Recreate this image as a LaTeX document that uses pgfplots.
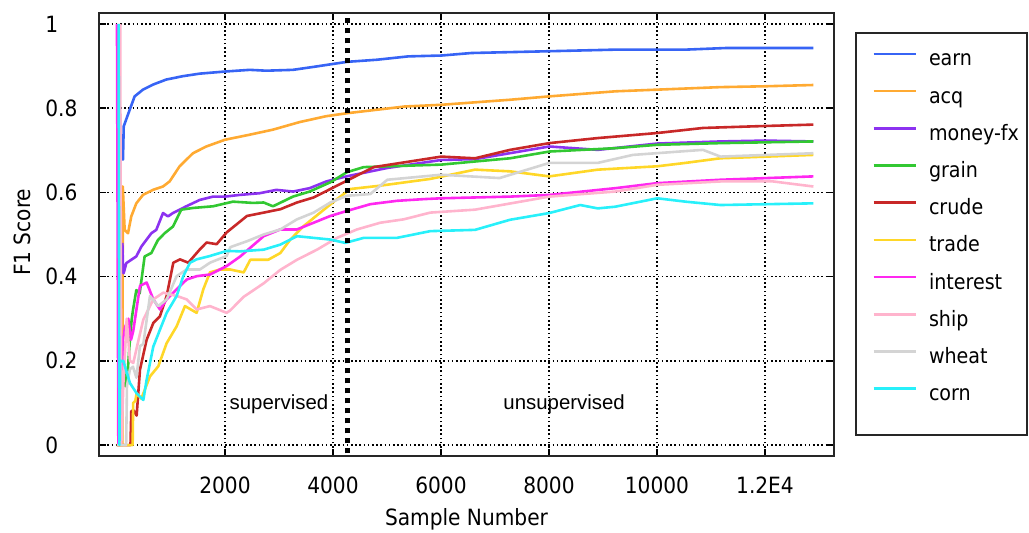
\documentclass[border=0pt]{standalone}
\usepackage{fontspec}
\setmainfont{DejaVu Sans}[FakeStretch=0.9]
\newfontfamily\annfont{Liberation Sans}
\usepackage{pgfplots}
\pgfplotsset{compat=1.18}

\definecolor{cEarn}{RGB}{55,100,245}
\definecolor{cAcq}{RGB}{255,170,50}
\definecolor{cMoney}{RGB}{140,50,240}
\definecolor{cGrain}{RGB}{50,200,50}
\definecolor{cCrude}{RGB}{200,40,40}
\definecolor{cTrade}{RGB}{255,215,40}
\definecolor{cInterest}{RGB}{255,40,240}
\definecolor{cShip}{RGB}{255,180,205}
\definecolor{cWheat}{RGB}{212,212,212}
\definecolor{cCorn}{RGB}{40,240,250}

\begin{document}
\begin{tikzpicture}
\begin{axis}[
  name=ax,
  scale only axis, width=367.5pt, height=221.5pt,
  xmin=-333, xmax=13278, ymin=-0.026, ymax=1.026,
  scaled x ticks=false, scaled y ticks=false,
  xtick={2000,4000,6000,8000,10000,12000},
  xticklabels={2000,4000,6000,8000,10000,1.2E4},
  ytick={0,0.2,0.4,0.6,0.8,1},
  yticklabels={0,0.2,0.4,0.6,0.8,1},
  /pgf/number format/assume math mode=true,
  tick label style={font=\fontsize{11.2}{13}\selectfont},
  xticklabel style={yshift=-6.8pt},
  yticklabel style={anchor=west, inner sep=0pt, xshift=-27pt},
  major tick length=3.5pt,
  tick style={black, line width=0.8pt},
  axis line style={black!85, line width=1pt},
  grid=major,
  grid style={black, line width=0.7pt, dash pattern=on 0.8pt off 1.3pt},
  label style={font=\fontsize{11.2}{13}\selectfont},
  xlabel={Sample Number},
  ylabel={F1 Score},
  xlabel style={at={(axis description cs:0.5,-0.142)}, anchor=center},
  ylabel style={at={(axis description cs:-0.104,0.505)}, anchor=center},
  no marks,
  every axis plot/.append style={line width=1.3pt, line join=round},
  legend style={at={(axis description cs:1.0517,0.9199)}, anchor=north west,
    draw=none, fill=none, inner sep=0pt, row sep=7.6pt,
    font=\fontsize{10.6}{12}\selectfont,
    nodes={inner sep=0pt, text height=8.5pt, text depth=2.5pt},
    /tikz/every odd column/.append style={column sep=6pt}},
  legend cell align=left,
  legend image code/.code={\draw[#1, line width=1.3pt] (0pt,3pt) -- (21pt,3pt);},
]
% earn
\addplot[cEarn] coordinates {(90,0.68)(111,0.678)(125,0.757)(235,0.796)(327,0.828)(481,0.844)(667,0.856)(914,0.868)(1222,0.876)(1531,0.882)(2000,0.887)(2457,0.891)(2765,0.889)(3259,0.891)(3691,0.899)(4000,0.905)(4260,0.910)(4812,0.915)(5396,0.923)(6006,0.925)(6565,0.931)(7929,0.935)(9227,0.939)(10526,0.939)(11305,0.943)(12896,0.943)};
\addlegendentry{earn}
% acq
\addplot[cAcq] coordinates {(0,0)(100,0)(108,0.614)(142,0.511)(204,0.503)(265,0.543)(358,0.574)(481,0.594)(667,0.606)(852,0.614)(975,0.626)(1160,0.662)(1407,0.693)(1654,0.709)(2000,0.725)(2457,0.737)(2889,0.749)(3383,0.767)(3877,0.781)(4260,0.788)(5331,0.804)(6006,0.808)(7279,0.820)(8006,0.828)(9227,0.840)(10006,0.844)(11175,0.850)(12006,0.852)(12896,0.855)};
\addlegendentry{acq}
% money-fx
\addplot[cMoney] coordinates {(100,0.48)(115,0.41)(123,0.408)(173,0.432)(265,0.440)(358,0.448)(450,0.471)(543,0.487)(636,0.503)(728,0.511)(852,0.551)(944,0.543)(1037,0.551)(1160,0.559)(1284,0.567)(1531,0.582)(1778,0.590)(2000,0.590)(2272,0.594)(2642,0.598)(2951,0.606)(3259,0.602)(3568,0.610)(3877,0.626)(4247,0.638)(5006,0.658)(6006,0.677)(6630,0.679)(8006,0.709)(8903,0.701)(10006,0.716)(11175,0.721)(12006,0.723)(12896,0.721)};
\addlegendentry{money-fx}
% grain
\addplot[cGrain] coordinates {(60,0.22)(117,0.22)(150,0.14)(179,0.14)(240,0.25)(272,0.298)(296,0.32)(358,0.368)(420,0.36)(512,0.448)(636,0.456)(759,0.487)(883,0.503)(1037,0.519)(1191,0.559)(1407,0.563)(1778,0.567)(2148,0.578)(2519,0.575)(2716,0.576)(2889,0.567)(3259,0.590)(3568,0.602)(3951,0.624)(4259,0.648)(4568,0.66)(6006,0.666)(7279,0.681)(8006,0.697)(9227,0.705)(10006,0.713)(11175,0.717)(12896,0.721)};
\addlegendentry{grain}
% crude
\addplot[cCrude] coordinates {(0,0)(250,0)(265,0.08)(302,0.083)(364,0.07)(426,0.179)(549,0.25)(673,0.29)(796,0.306)(920,0.354)(1043,0.433)(1167,0.441)(1321,0.433)(1537,0.465)(1660,0.481)(1846,0.477)(2031,0.505)(2407,0.544)(2716,0.552)(3025,0.56)(3333,0.576)(3642,0.588)(3951,0.608)(4259,0.628)(4568,0.648)(4753,0.66)(6006,0.685)(6630,0.681)(7279,0.701)(8006,0.717)(8903,0.729)(10006,0.741)(10851,0.753)(11825,0.757)(12896,0.761)};
\addlegendentry{crude}
% trade
\addplot[cTrade] coordinates {(0,0)(290,0)(300,0.1)(340,0.105)(364,0.123)(450,0.11)(611,0.163)(765,0.187)(920,0.242)(1105,0.282)(1259,0.33)(1475,0.314)(1599,0.37)(1722,0.41)(1907,0.417)(2093,0.417)(2346,0.41)(2469,0.44)(2800,0.44)(3025,0.456)(3210,0.488)(3457,0.52)(3765,0.552)(4074,0.584)(4321,0.608)(4877,0.616)(5802,0.632)(6630,0.654)(7279,0.650)(8006,0.638)(8903,0.654)(10006,0.662)(10526,0.670)(11175,0.681)(12896,0.689)};
\addlegendentry{trade}
% interest
\addplot[cInterest] coordinates {(0,1)(25,0)(80,0.05)(110,0.25)(150,0.28)(210,0.3)(260,0.25)(300,0.27)(426,0.378)(549,0.386)(673,0.346)(796,0.322)(920,0.346)(1105,0.37)(1290,0.393)(1475,0.401)(1722,0.405)(2031,0.425)(2284,0.448)(2716,0.496)(3025,0.512)(3333,0.512)(3642,0.528)(3951,0.544)(4259,0.556)(4691,0.572)(5185,0.58)(5679,0.584)(6006,0.586)(7279,0.590)(8006,0.594)(9227,0.610)(10006,0.622)(11175,0.630)(12896,0.638)};
\addlegendentry{interest}
% ship
\addplot[cShip] coordinates {(60,1)(80,0)(120,0.15)(180,0.3)(240,0.2)(302,0.195)(400,0.25)(488,0.298)(673,0.346)(858,0.362)(1105,0.354)(1290,0.346)(1475,0.322)(1722,0.33)(2031,0.314)(2099,0.32)(2346,0.352)(2716,0.384)(3025,0.416)(3333,0.44)(3704,0.464)(4074,0.492)(4444,0.512)(4877,0.528)(5309,0.536)(5802,0.552)(6630,0.559)(8006,0.590)(9227,0.602)(10006,0.618)(11175,0.626)(12150,0.626)(12896,0.614)};
\addlegendentry{ship}
% wheat
\addplot[cWheat] coordinates {(0,0)(170,0)(185,0.14)(240,0.18)(296,0.186)(360,0.16)(426,0.235)(488,0.24)(611,0.354)(765,0.33)(920,0.346)(1105,0.401)(1290,0.417)(1537,0.417)(1722,0.433)(2031,0.449)(2099,0.47)(2407,0.484)(2716,0.5)(3025,0.512)(3333,0.536)(3642,0.552)(3951,0.576)(4259,0.592)(4691,0.596)(5006,0.630)(6006,0.642)(7084,0.634)(8006,0.670)(8903,0.670)(9552,0.689)(10851,0.701)(11175,0.685)(12896,0.693)};
\addlegendentry{wheat}
% corn
\addplot[cCorn] coordinates {(30,1)(45,0)(60,0.2)(117,0.2)(241,0.147)(364,0.123)(488,0.107)(549,0.155)(673,0.234)(796,0.274)(920,0.314)(1105,0.354)(1228,0.401)(1352,0.433)(1475,0.441)(1722,0.449)(2031,0.461)(2278,0.46)(2716,0.464)(3025,0.476)(3333,0.496)(3642,0.492)(3951,0.488)(4228,0.48)(4568,0.492)(5185,0.492)(5802,0.508)(6630,0.511)(7279,0.535)(8006,0.551)(8578,0.570)(8903,0.562)(9227,0.566)(10006,0.586)(10526,0.578)(11175,0.570)(12896,0.574)};
\addlegendentry{corn}
% supervised / unsupervised boundary
\addplot[forget plot, black, line width=2.5pt, dash pattern=on 2.5pt off 2.5pt] coordinates {(4260,-0.02)(4260,1.015)};
\node[font=\annfont\fontsize{10.2}{12}\selectfont, anchor=base] at (axis cs:3000,0.0855) {supervised};
\node[font=\annfont\fontsize{10.2}{12}\selectfont, anchor=base] at (axis cs:8280,0.0855) {unsupervised};
\end{axis}
\draw[black!85, line width=1pt] ([xshift=11pt,yshift=-10pt]ax.north east) rectangle ([xshift=96.5pt,yshift=-211pt]ax.north east);
\pgfresetboundingbox
\path ([xshift=-49.5pt,yshift=-38pt]ax.south west) rectangle ++(514.5pt,266pt);
\end{tikzpicture}
\end{document}
